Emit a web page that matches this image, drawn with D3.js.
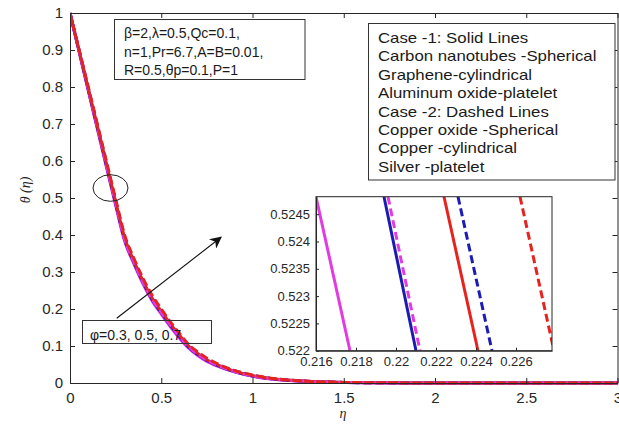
<!DOCTYPE html>
<html><head><meta charset="utf-8">
<script src="https://cdn.jsdelivr.net/npm/d3@7"></script>
<style>body{margin:0;background:#fff}svg{display:block}</style>
</head><body>
<script>
// ---------- data ----------
const etaVals = [0,0.05,0.1,0.15,0.2,0.25,0.3,0.35,0.4,0.45,0.5,0.55,0.6,0.65,0.7,0.75,0.8,0.9,1.0,1.1,1.2,1.3,1.4,1.5,1.75,2,2.5,3];
const thetaMagentaSolid = [1,0.895,0.790,0.686,0.582,0.480,0.382,0.322,0.268,0.222,0.186,0.152,0.121,0.094,0.074,0.058,0.047,0.030,0.018,0.011,0.0068,0.0040,0.0022,0.0012,0.0003,0.0001,0,0];
const thetaBlueSolid    = [1,0.897,0.793,0.690,0.587,0.485,0.387,0.326,0.272,0.226,0.190,0.156,0.125,0.097,0.077,0.061,0.049,0.031,0.019,0.0115,0.0072,0.0043,0.0024,0.0013,0.0004,0.0001,0,0];
const thetaRedSolid     = [1,0.898,0.796,0.694,0.592,0.490,0.392,0.330,0.276,0.230,0.194,0.160,0.129,0.100,0.080,0.063,0.051,0.032,0.020,0.012,0.0075,0.0045,0.0025,0.0014,0.0004,0.0001,0,0];
const thetaMagentaDash  = [1,0.897,0.794,0.691,0.588,0.486,0.388,0.327,0.273,0.227,0.191,0.157,0.126,0.098,0.078,0.062,0.050,0.031,0.019,0.0117,0.0073,0.0044,0.0024,0.0013,0.0004,0.0001,0,0];
const thetaBlueDash     = [1,0.899,0.797,0.696,0.594,0.493,0.395,0.333,0.279,0.233,0.197,0.162,0.131,0.102,0.082,0.065,0.052,0.033,0.021,0.0125,0.0078,0.0047,0.0026,0.0015,0.0004,0.0001,0,0];
const thetaRedDash      = [1,0.900,0.800,0.699,0.598,0.497,0.399,0.337,0.283,0.237,0.200,0.165,0.134,0.104,0.084,0.067,0.054,0.034,0.022,0.013,0.0081,0.0049,0.0027,0.0016,0.0005,0.0001,0,0];

// inset (zoom) : eta at theta top / bottom
const insetTheta = [0.52482, 0.522];
const insetMagentaSolid = [0.2160, 0.2177];
const insetBlueSolid    = [0.2194, 0.2210];
const insetMagentaDash  = [0.2196, 0.2212];
const insetRedSolid     = [0.2224, 0.2241];
const insetBlueDash     = [0.2231, 0.2248];
const insetRedDash      = [0.2262, 0.2279];

const xTicks = [0,0.5,1,1.5,2,2.5,3];
const yTicks = [0,0.1,0.2,0.3,0.4,0.5,0.6,0.7,0.8,0.9,1];
const insetXTicks = [0.216,0.218,0.22,0.222,0.224,0.226];
const insetYTicks = [0.522,0.5225,0.523,0.5235,0.524,0.5245];

const paramLines = ["β=2,λ=0.5,Qc=0.1,","n=1,Pr=6.7,A=B=0.01,","R=0.5,θp=0.1,P=1"];
const legendLines = ["Case -1: Solid Lines","Carbon nanotubes -Spherical","Graphene-cylindrical","Aluminum oxide-platelet","Case -2: Dashed Lines","Copper oxide -Spherical","Copper -cylindrical","Silver -platelet"];
const phiLabel = "φ=0.3, 0.5, 0.7";

// ---------- drawing ----------
const W = 619, H = 432;
const MAG = "#e23be2", BLU = "#1c1cb4", RED = "#e6231f", AX = "#262626";
const font = "'Liberation Sans', Arial, sans-serif";
const svg = d3.select("body").append("svg").attr("width", W).attr("height", H);
svg.append("rect").attr("width", W).attr("height", H).attr("fill", "#fff");

const x = d3.scaleLinear().domain([0,3]).range([70,617.5]);
const y = d3.scaleLinear().domain([0,1]).range([383,13]);

const series = [
  {v: thetaMagentaSolid, c: MAG, dash: null},
  {v: thetaBlueSolid, c: BLU, dash: null},
  {v: thetaRedSolid, c: RED, dash: null},
  {v: thetaBlueDash, c: BLU, dash: "8,4"},
  {v: thetaMagentaDash, c: MAG, dash: "8,4"},
  {v: thetaRedDash, c: RED, dash: "8,4"}
];

svg.append("clipPath").attr("id","mainclip").append("rect")
  .attr("x",70).attr("y",11).attr("width",549).attr("height",374);
const line = d3.line().x((d,i)=>x(etaVals[i])).y(d=>y(d)).curve(d3.curveMonotoneX);
const gLines = svg.append("g").attr("clip-path","url(#mainclip)");
series.forEach(s => {
  gLines.append("path").attr("d", line(s.v)).attr("fill","none")
    .attr("stroke", s.c).attr("stroke-width", 3)
    .attr("stroke-dasharray", s.dash);
});

// axes
const gx = svg.append("g").attr("transform","translate(0,383)")
  .call(d3.axisBottom(x).tickValues(xTicks).tickFormat(d3.format("")).tickSizeInner(-5).tickSizeOuter(0).tickPadding(9));
const gxt = svg.append("g").attr("transform","translate(0,13)")
  .call(d3.axisTop(x).tickValues(xTicks).tickFormat("").tickSizeInner(-5).tickSizeOuter(0));
const gy = svg.append("g").attr("transform","translate(70,0)")
  .call(d3.axisLeft(y).tickValues(yTicks).tickFormat(d3.format("")).tickSizeInner(-5).tickSizeOuter(0).tickPadding(7));
const gyr = svg.append("g").attr("transform","translate(617.5,0)")
  .call(d3.axisRight(y).tickValues(yTicks).tickFormat("").tickSizeInner(-5).tickSizeOuter(0));
[gx,gxt,gy,gyr].forEach(g=>{
  g.selectAll("path,line").attr("stroke",AX).attr("stroke-width",1);
  g.selectAll("text").attr("fill",AX).style("font-family",font).style("font-size","15px");
});
svg.append("text").attr("x",343).attr("y",418).attr("text-anchor","middle")
  .style("font-family","'Liberation Serif','DejaVu Serif',serif").style("font-style","italic").style("font-size","14px").attr("fill",AX).text("η");
svg.append("text").attr("transform","translate(30,190) rotate(-90)").attr("text-anchor","middle")
  .style("font-family","'Liberation Serif','DejaVu Serif',serif").style("font-style","italic").style("font-size","14px").attr("fill",AX).text("θ (η)");

// parameter box
svg.append("rect").attr("x",114.5).attr("y",19.5).attr("width",190.5).attr("height",60)
  .attr("fill","#fff").attr("stroke","#333").attr("stroke-width",1);
paramLines.forEach((t,i)=>svg.append("text").attr("x",124).attr("y",38+i*18.5)
  .style("font-family",font).style("font-size","14px").attr("fill","#1a1a1a").text(t));

// legend box
svg.append("rect").attr("x",368.5).attr("y",23.5).attr("width",246.5).attr("height",156.5)
  .attr("fill","#fff").attr("stroke","#333").attr("stroke-width",1);
const gLeg = svg.append("g").attr("transform","translate(378,0) scale(1.2,1)");
legendLines.forEach((t,i)=>gLeg.append("text").attr("x",0).attr("y",43+i*18.4)
  .style("font-family",font).style("font-size","14px").attr("fill","#1a1a1a").text(t));

// ellipse
svg.append("ellipse").attr("cx",110.5).attr("cy",188).attr("rx",17.5).attr("ry",13.3)
  .attr("fill","none").attr("stroke","#222").attr("stroke-width",1);

// arrow
svg.append("defs").append("marker").attr("id","ah").attr("viewBox","0 0 10 10")
  .attr("refX",9).attr("refY",5).attr("markerWidth",12).attr("markerHeight",12).attr("markerUnits","userSpaceOnUse")
  .attr("orient","auto").append("path").attr("d","M0,0 L10,5 L0,10 L3,5 Z").attr("fill","#111");
svg.append("line").attr("x1",116.7).attr("y1",318.3).attr("x2",221).attr("y2",237.3)
  .attr("stroke","#111").attr("stroke-width",1.1).attr("marker-end","url(#ah)");

// phi box
svg.append("rect").attr("x",82.5).attr("y",320.5).attr("width",129).attr("height",23)
  .attr("fill","none").attr("stroke","#333").attr("stroke-width",1);
svg.append("text").attr("x",90).attr("y",340).style("font-family",font).style("font-size","14px")
  .attr("fill","#1a1a1a").text(phiLabel);

// ---------- inset ----------
const ix = d3.scaleLinear().domain([0.216,0.2278]).range([316,552]);
const iy = d3.scaleLinear().domain([0.522,0.52482]).range([350.7,196.7]);
svg.append("rect").attr("x",316).attr("y",196.7).attr("width",236).attr("height",154)
  .attr("fill","#fff");
svg.append("clipPath").attr("id","insclip").append("rect")
  .attr("x",316).attr("y",196.7).attr("width",236).attr("height",154);
const gIn = svg.append("g").attr("clip-path","url(#insclip)");
const insetSeries = [
  {v: insetMagentaSolid, c: MAG, dash: null},
  {v: insetBlueSolid, c: BLU, dash: null},
  {v: insetMagentaDash, c: MAG, dash: "8,4"},
  {v: insetRedSolid, c: RED, dash: null},
  {v: insetBlueDash, c: BLU, dash: "8,4"},
  {v: insetRedDash, c: RED, dash: "8,4"}
];
const iline = d3.line().x(d=>ix(d[0])).y(d=>iy(d[1]));
insetSeries.forEach(s=>{
  gIn.append("path").attr("d", iline(s.v.map((e,i)=>[e, insetTheta[i]])))
    .attr("fill","none").attr("stroke",s.c).attr("stroke-width",3).attr("stroke-dasharray",s.dash);
});
const gix = svg.append("g").attr("transform","translate(0,350.7)")
  .call(d3.axisBottom(ix).tickValues(insetXTicks).tickFormat(d3.format("")).tickSizeInner(-3).tickSizeOuter(0).tickPadding(6));
const giy = svg.append("g").attr("transform","translate(316,0)")
  .call(d3.axisLeft(iy).tickValues(insetYTicks).tickFormat(d3.format("")).tickSizeInner(-3).tickSizeOuter(0).tickPadding(6));
[gix,giy].forEach(g=>{
  g.selectAll("path,line").attr("stroke",AX).attr("stroke-width",1);
  g.selectAll("text").attr("fill",AX).style("font-family",font).style("font-size","13px");
});
svg.append("rect").attr("x",316).attr("y",196.7).attr("width",236).attr("height",154)
  .attr("fill","none").attr("stroke",AX).attr("stroke-width",1);
</script>
</body></html>
